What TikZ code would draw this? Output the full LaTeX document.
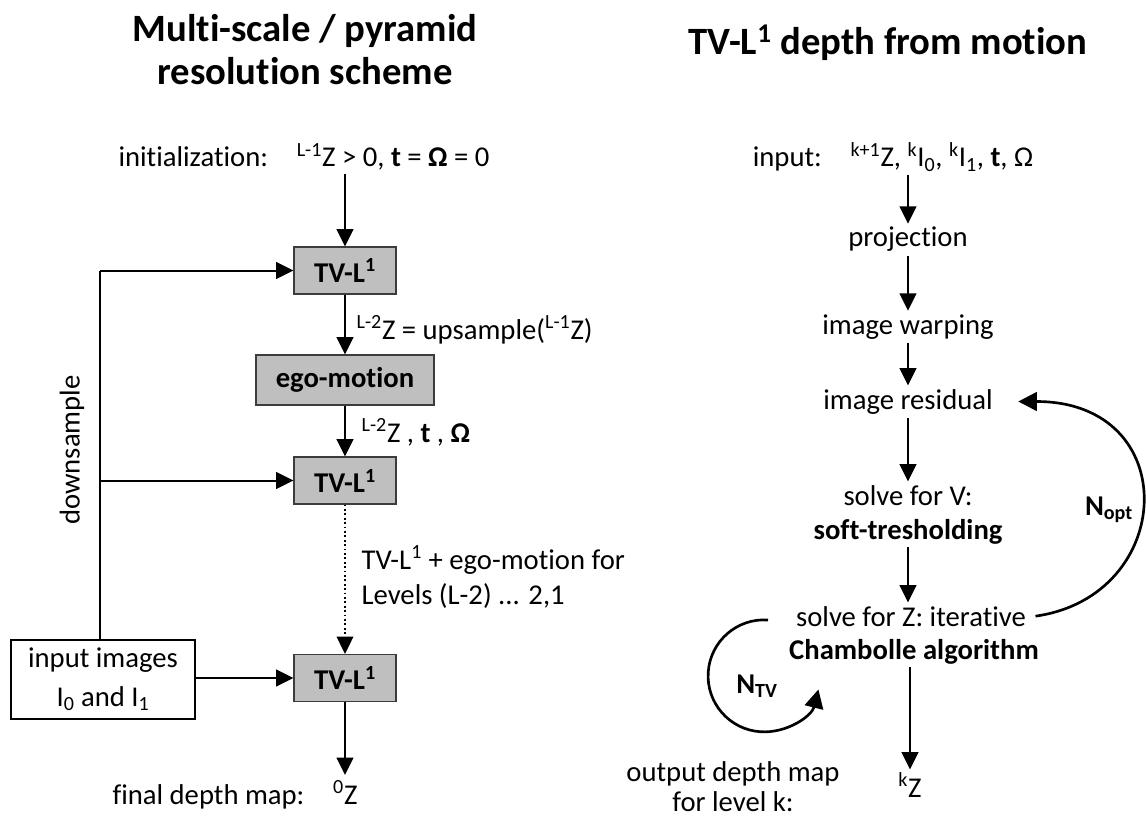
\documentclass[tikz,border=0pt]{standalone}
\usepackage{fontspec}
\setmainfont{Carlito}[Ligatures={NoCommon}]
\usetikzlibrary{arrows.meta,calc}
\definecolor{procfill}{RGB}{191,191,191}
\definecolor{procline}{RGB}{60,60,60}
\newcommand\bodysize{\fontsize{21.5}{29}\selectfont}
\newcommand\titlesize{\fontsize{29}{32}\selectfont}
\tikzset{
  flow/.style={line width=1.5pt, -{Triangle[length=13pt,width=12.5pt]}},
  hop/.style={line width=1.3pt, dotted, -{Triangle[length=13pt,width=12.5pt]}},
  loopback/.style={line width=2pt, -{Triangle[length=14pt,width=14pt]}},
  trunk/.style={line width=1.5pt},
  proc/.style={draw=procline, fill=procfill, line width=0.9pt, font=\bodysize\bfseries,
    inner sep=0pt, minimum width=76.5pt, minimum height=35.25pt},
  io/.style={draw=black, fill=white, line width=1.1pt, font=\bodysize, align=center,
    inner sep=0pt, minimum width=138pt, minimum height=59.25pt},
  lbl/.style={font=\bodysize, inner sep=2.5pt},
  heading/.style={font=\titlesize\bfseries, inner sep=0pt},
}
\begin{document}
\begin{tikzpicture}[x=0.75pt,y=-0.75pt]
\path[fill=white,use as bounding box] (0,0) rectangle (1146,820);

% headings
\node[heading, anchor=base] (lt1) at (305,42) {Multi-scale / pyramid};
\node[heading, anchor=base] (lt2) at (305,85) {resolution scheme};
\node[heading, anchor=base] (rt) at (888,55) {TV-L\textsuperscript{1} depth from motion};

% ---- pyramid scheme ----
\node[lbl, anchor=base] (init) at (304,167)
  {initialization:\quad\textsuperscript{L-1}Z > 0, \textbf{t} = \textbf{Ω} = 0};
\node[proc] (b1) at (345,270.5) {TV-L\textsuperscript{1}};
\node[proc, minimum width=133.5pt, minimum height=37.5pt] (ego) at (345,380) {ego-motion};
\node[proc] (b2) at (345,480.5) {TV-L\textsuperscript{1}};
\node[proc] (b3) at (345,678) {TV-L\textsuperscript{1}};
\node[io] (input) at (103,679.5) {input images\\I\textsubscript{0} and I\textsubscript{1}};
\node[lbl, anchor=base] (final) at (235,804) {final depth map:\quad\textsuperscript{0}Z};
\coordinate (zout) at (345,775);
\coordinate (split) at (100,270.5);

\node[lbl, anchor=base west] (uplbl) at (353,339)
  {\textsuperscript{L-2}Z = upsample(\textsuperscript{L-1}Z)};
\node[lbl, anchor=base west] (egolbl) at (358,442)
  {\textsuperscript{L-2}Z , \textbf{t} , \textbf{Ω}};
\node[lbl, anchor=base west] (lvl1) at (358,569) {TV-L\textsuperscript{1} + ego-motion for};
\node[lbl, anchor=base west] (lvl2) at (358,604) {Levels (L-2) ... 2,1};
\node[lbl, rotate=90] (dslbl) at (72,450) {downsample};

\draw[flow] (init.south -| b1) -- (b1);
\draw[flow] (b1) -- (ego);
\draw[flow] (ego) -- (b2);
\draw[hop] (b2) -- (b3);
\draw[flow] (b3) -- (zout);
\draw[trunk] (input.north -| split) -- (split);
\draw[flow] (split) -- (b1);
\draw[flow] (split |- b2) -- (b2);
\draw[flow] (input.east |- b3) -- (b3);

% ---- TV-L1 iteration ----
\node[lbl, anchor=base] (inp) at (893,167)
  {input:\quad\textsuperscript{k+1}Z, \textsuperscript{k}I\textsubscript{0}, \textsuperscript{k}I\textsubscript{1}, \textbf{t}, Ω};
\node[lbl, anchor=base] (proj) at (908,247) {projection};
\node[lbl, anchor=base] (warp) at (908,334) {image warping};
\node[lbl, anchor=base] (resid) at (908,409) {image residual};
\node[lbl, anchor=base] (sv1) at (908,505) {solve for V:};
\node[lbl, anchor=base, font=\bodysize\bfseries] (sv2) at (908,539) {soft-tresholding};
\node[lbl, anchor=base] (sz1) at (911,626) {solve for Z: iterative};
\node[lbl, anchor=base, font=\bodysize\bfseries] (sz2) at (914,659) {Chambolle algorithm};
\node[lbl, anchor=base] (kz) at (910,797) {\textsuperscript{k}Z};
\node[lbl, anchor=base] (out1) at (733,781) {output depth map};
\node[lbl, anchor=base] (out2) at (733,811) {for level k:};
\node[lbl, font=\bodysize\bfseries] (nopt) at (1109,510) {N\textsubscript{opt}};
\node[lbl, font=\bodysize\bfseries] (ntv) at (757,686) {N\textsubscript{TV}};
\coordinate (tvstart) at (768,620);

\draw[flow] (inp.south -| proj) -- (proj);
\draw[flow] (proj) -- (warp);
\draw[flow] (warp) -- (resid);
\draw[flow] (resid) -- (sv1);
\draw[flow] (sv2.south) -- (sv2.south |- sz1.north);
\draw[flow] (sz2.south -| kz) -- (kz);

\draw[loopback] ($(sz1.east)+(6,0)$)
  .. controls ($(sz1.east)+(147,-20)$) and ($(resid.east)+(188,0)$) .. ($(resid.east)+(22,0)$);
\draw[loopback] (tvstart) arc[start angle=-86, end angle=-346, radius=56];
\end{tikzpicture}
\end{document}
